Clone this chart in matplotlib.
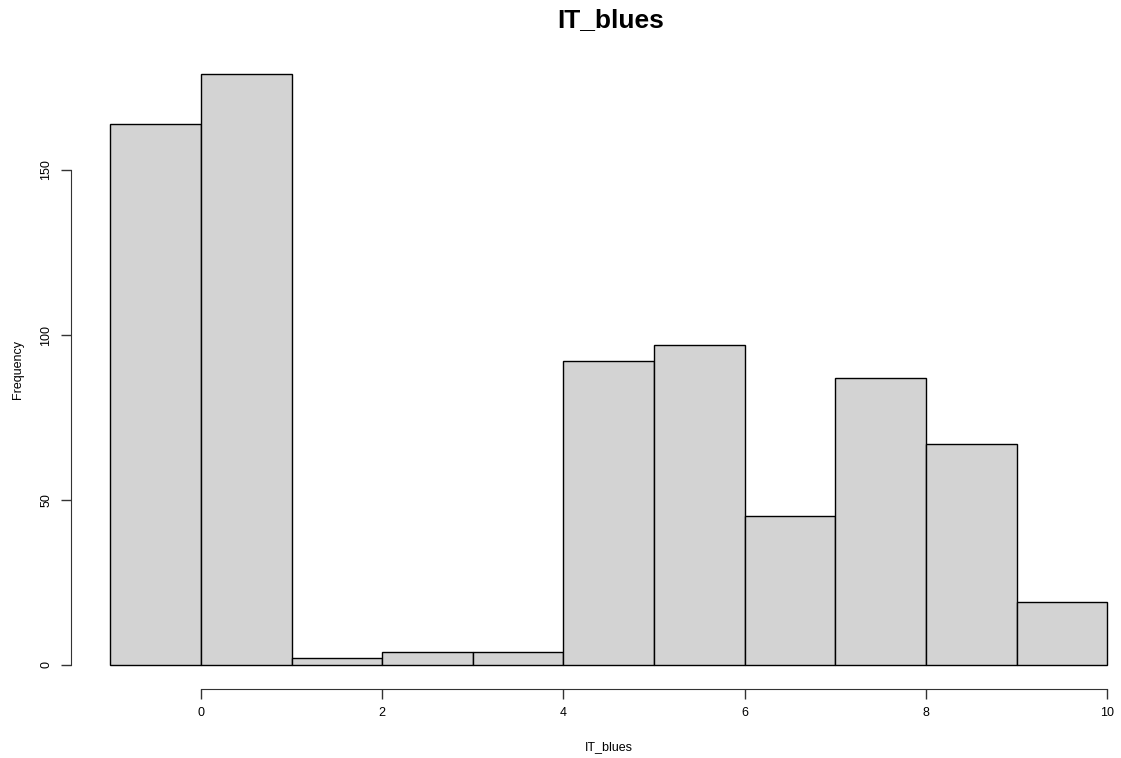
import matplotlib as mpl
mpl.use('Agg')
import matplotlib.pyplot as plt
import numpy as np

plt.rcParams['font.family'] = ['Liberation Sans', 'DejaVu Sans']

# histogram of IT_blues (R hist style)
bin_edges = [-1, 0, 1, 2, 3, 4, 5, 6, 7, 8, 9, 10]
counts = [164, 179, 2, 4, 4, 92, 97, 45, 87, 67, 19]
x_ticks = [0, 2, 4, 6, 8, 10]
y_ticks = [0, 50, 100, 150]

W, H = 1121, 758
fig = plt.figure(figsize=(W / 100, H / 100), dpi=100)

# R pads the data range by 4% on each side
xr = bin_edges[-1] - bin_edges[0]
xlim = (bin_edges[0] - 0.04 * xr, bin_edges[-1] + 0.04 * xr)
ylim = (-0.04 * max(counts), 1.04 * max(counts))

left, right, top, bottom = 70.5, 1147, 50.7, 688.6
ax = fig.add_axes([left / W, 1 - bottom / H, (right - left) / W, (bottom - top) / H])

ax.bar(bin_edges[:-1], counts, width=np.diff(bin_edges), align='edge',
       color='#d3d3d3', edgecolor='black', linewidth=1)

ax.set_xlim(*xlim)
ax.set_ylim(*ylim)

for s in ['top', 'right']:
    ax.spines[s].set_visible(False)
ax.spines['bottom'].set_bounds(x_ticks[0], x_ticks[-1])
ax.spines['left'].set_bounds(y_ticks[0], y_ticks[-1])
ax.spines['bottom'].set_color('#333333')
ax.spines['left'].set_color('#333333')

ax.set_xticks(x_ticks)
ax.set_yticks(y_ticks)
ax.set_yticklabels([str(v) for v in y_ticks], rotation=90, va='center')
ax.tick_params(direction='out', length=7, width=1, color='#333333',
               labelsize=9, pad=6)

ax.set_xlabel('IT_blues', fontsize=9, labelpad=16)
ax.set_ylabel('Frequency', fontsize=9, labelpad=12)

fig.text(0.545, 1 - 20 / H, 'IT_blues', ha='center', va='center',
         fontsize=19, fontweight='bold')

plt.savefig('out.png', dpi=100)
